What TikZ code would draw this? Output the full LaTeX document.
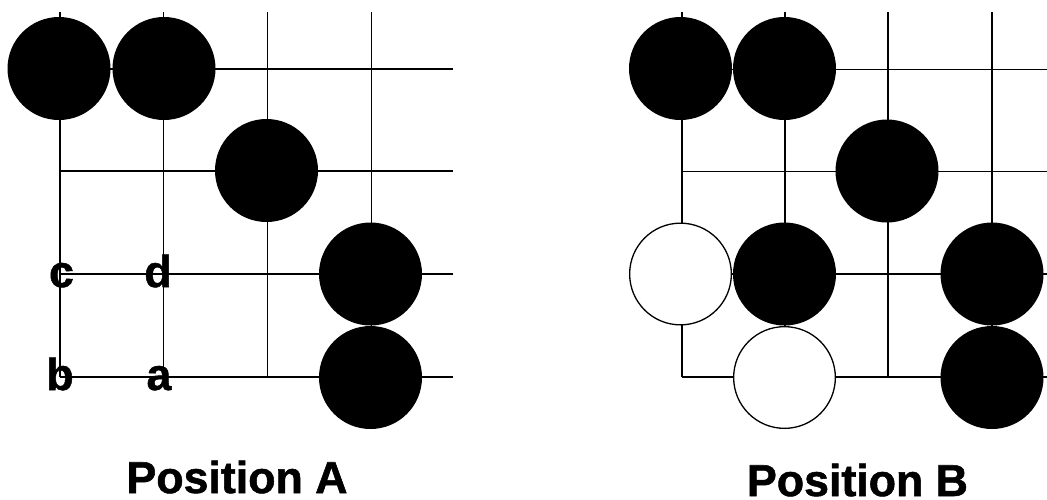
\documentclass[tikz,border=0pt]{standalone}
\usepackage{fontspec}
\setmainfont{Liberation Sans}
\newfontfamily\heavysans{Liberation Sans}[UprightFont={* Bold},FakeBold=1.2]
\begin{document}
\begin{tikzpicture}[x=1pt,y=-1pt,
  gridline/.style={line width=1.4pt},
  bstone/.style={circle,fill=black,minimum size=103pt,inner sep=0pt},
  wstone/.style={circle,draw=black,fill=white,line width=1.3pt,minimum size=101.7pt,inner sep=0pt},
  lbl/.style={font=\fontsize{44.7}{44.7}\selectfont\heavysans,inner sep=0pt,anchor=base},
  ttl/.style={font=\fontsize{44.7}{44.7}\selectfont\heavysans,inner sep=0pt,anchor=base}]
\useasboundingbox (0,0) rectangle (1047,499);
% ---- Position A board
\foreach \x in {60,163.5,267.5,371.5} \draw[gridline] (\x,12) -- (\x,377);
\foreach \y in {69,171,274,377} \draw[gridline] (60,\y) -- (453,\y);
\node[bstone] (a1) at (59,68.5) {};
\node[bstone] (a2) at (164,68.5) {};
\node[bstone] (a3) at (266.5,170.5) {};
\node[bstone] (a4) at (370.5,274) {};
\node[bstone] (a5) at (370.5,377.5) {};
\node[lbl] (lc) at (61.5,287) {c};
\node[lbl] (ld) at (158,287) {d};
\node[lbl] (lb) at (60,390) {b};
\node[lbl] (la) at (159,390) {a};
\node[ttl] (ta) at (237,493) {Position A};
% ---- Position B board
\foreach \x in {682,785,888,992} \draw[gridline] (\x,12) -- (\x,377);
\foreach \y in {69.5,171.5,274,377} \draw[gridline] (682,\y) -- (1047,\y);
\node[bstone] (b1) at (680.5,68.5) {};
\node[bstone] (b2) at (784.5,68.5) {};
\node[bstone] (b3) at (887,171) {};
\node[bstone] (b4) at (784.5,274) {};
\node[bstone] (b5) at (992,274) {};
\node[bstone] (b6) at (992,377.5) {};
\node[wstone] (w1) at (680.5,274) {};
\node[wstone] (w2) at (784.5,377.5) {};
\node[ttl] (tb) at (857.5,496) {Position B};
\end{tikzpicture}
\end{document}
